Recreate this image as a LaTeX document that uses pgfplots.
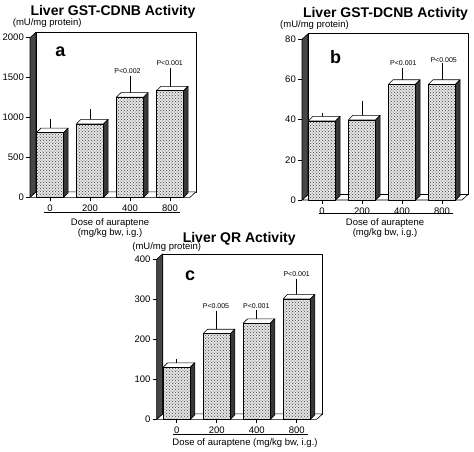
\documentclass[border=0pt]{standalone}
\usepackage{fontspec}
\setmainfont{Liberation Sans}
\usepackage{pgfplots}
\pgfplotsset{compat=1.18}
\usepackage{pgfplotstable}
\usetikzlibrary{patterns}

\definecolor{frontcol}{gray}{0.90}
\definecolor{sidecol}{gray}{0.22}
\definecolor{wallcol}{gray}{0.28}

% Panel a: Liver GST-CDNB (mU/mg protein)
\pgfplotstableread{
x y err
0 810 130
1 920 140
2 1255 220
3 1335 240
}\dataA
% Panel b: Liver GST-DCNB (mU/mg protein)
\pgfplotstableread{
x y err
0 39.4 2.1
1 39.9 7.8
2 57.6 6.6
3 57.6 8.7
}\dataB
% Panel c: Liver QR (mU/mg protein)
\pgfplotstableread{
x y err
0 130 13
1 214 49
2 240 25
3 301 40
}\dataC

\pgfplotsset{
  panel/.style={
    scale only axis, width=160pt, xmin=-0.5, xmax=3.5, ymin=0, clip=false,
    axis x line*=bottom, axis y line*=left, axis line style={draw=none},
    xtick={0,1,2,3}, xticklabels={0,200,400,800},
    tick align=outside, major tick length=4pt,
    tick style={black, line width=0.6pt},
    ticklabel style={font=\fontsize{9.5}{11}\selectfont},
    yticklabel style={inner sep=2pt},
  },
  topface/.style={fill=white, draw=black, line width=0.6pt, line join=round},
  sideface/.style={fill=sidecol, draw=black, line width=0.6pt, line join=round},
  wallface/.style={fill=white, draw=black, line width=0.6pt, line join=round},
  leftwall/.style={fill=wallcol, draw=black, line width=0.6pt, line join=round},
  errplot/.style={draw=none, no marks, forget plot,
    error bars/.cd, y dir=plus, y explicit,
    error bar style={draw=black, line width=0.6pt},
    error mark options={draw=black, line width=0.6pt, mark size=3.5pt}},
  frontbar/.style={ybar, bar width=0.68, bar shift=0pt, fill=frontcol, draw=black, line width=0.6pt,
    postaction={pattern=crosshatch dots, pattern color=black!75}},
}

% 3D faces of one bar: #1 position, #2 value, #3 depth in y units
\newcommand{\cubefaces}[3]{%
  \pgfmathsetmacro\xa{#1-0.34}%
  \pgfmathsetmacro\xb{#1+0.34}%
  \pgfmathsetmacro\xc{#1-0.34+0.1125}%
  \pgfmathsetmacro\xd{#1+0.34+0.1125}%
  \pgfmathsetmacro\ya{#2+#3}%
  \edef\tmp{%
    \noexpand\addplot[topface] coordinates {(\xa,#2) (\xc,\ya) (\xd,\ya) (\xb,#2) (\xa,#2)};
    \noexpand\addplot[sideface] coordinates {(\xb,0) (\xd,#3) (\xd,\ya) (\xb,#2) (\xb,0)};
  }\tmp}

% walls: #1 ymax, #2 wall depth in y units
\newcommand{\walls}[2]{%
  \pgfmathsetmacro\wt{#1+#2}%
  \edef\tmp{%
    \noexpand\addplot[wallface] coordinates {(-0.35,#2) (3.65,#2) (3.65,\wt) (-0.35,\wt) (-0.35,#2)};
    \noexpand\addplot[wallface] coordinates {(-0.5,0) (-0.35,#2) (3.65,#2) (3.5,0) (-0.5,0)};
    \noexpand\addplot[leftwall] coordinates {(-0.5,0) (-0.5,#1) (-0.35,\wt) (-0.35,#2) (-0.5,0)};
  }\tmp}

\begin{document}
\begin{tikzpicture}
\useasboundingbox (0,0) rectangle (474pt,451pt);

% ---------- panel a ----------
\begin{axis}[panel, at={(30pt,253.7pt)}, anchor=south west, height=159.6pt,
  ymax=2000, ytick={0,500,1000,1500,2000}, yticklabels={0,500,1000,1500,2000}]
  \walls{2000}{68.75}
  \addplot[errplot] table[x=x, y=y, y error=err]{\dataA};
  \cubefaces{0}{810}{56}
  \cubefaces{1}{920}{56}
  \cubefaces{2}{1255}{56}
  \cubefaces{3}{1335}{56}
  \addplot[frontbar] table[x=x, y=y]{\dataA};
\end{axis}

% ---------- panel b ----------
\begin{axis}[panel, at={(302pt,251pt)}, anchor=south west, height=160.7pt,
  ymax=80, ytick={0,20,40,60,80}, yticklabels={0,20,40,60,80}]
  \walls{80}{2.75}
  \addplot[errplot] table[x=x, y=y, y error=err]{\dataB};
  \cubefaces{0}{39.4}{2.25}
  \cubefaces{1}{39.9}{2.25}
  \cubefaces{2}{57.6}{2.25}
  \cubefaces{3}{57.6}{2.25}
  \addplot[frontbar] table[x=x, y=y]{\dataB};
\end{axis}

% ---------- panel c ----------
\begin{axis}[panel, at={(156.7pt,31.7pt)}, anchor=south west, height=160pt,
  ymax=400, ytick={0,100,200,300,400}, yticklabels={0,100,200,300,400}]
  \walls{400}{13.75}
  \addplot[errplot] table[x=x, y=y, y error=err]{\dataC};
  \cubefaces{0}{130}{11.25}
  \cubefaces{1}{214}{11.25}
  \cubefaces{2}{240}{11.25}
  \cubefaces{3}{301}{11.25}
  \addplot[frontbar] table[x=x, y=y]{\dataC};
\end{axis}

% ---------- titles and texts ----------
\tikzset{ttl/.style={font=\fontsize{14}{16}\selectfont\bfseries, anchor=base, inner sep=0pt},
  unit/.style={font=\fontsize{9.5}{11}\selectfont, inner sep=0pt},
  lett/.style={font=\fontsize{18}{20}\selectfont\bfseries, anchor=base, inner sep=0pt},
  pval/.style={font=\fontsize{7}{8}\selectfont, inner sep=0pt}}

\node[ttl] at (113pt,435.3pt) {Liver GST-CDNB Activity};
\node[ttl] at (385.5pt,433.7pt) {Liver GST-DCNB Activity};
\node[ttl] at (239.2pt,208.3pt) {Liver QR Activity};

\node[unit] at (47.2pt,427.7pt) {(mU/mg protein)};
\node[unit] at (314.5pt,426pt) {(mU/mg protein)};
\node[unit] at (166.7pt,203.7pt) {(mU/mg protein)};

\node[lett] at (60.3pt,394.3pt) {a};
\node[lett] at (335.5pt,387.7pt) {b};
\node[lett] at (190.2pt,171pt) {c};

\node[pval] at (127.5pt,380.3pt) {P<0.002};
\node[pval] at (169.7pt,388pt) {P<0.001};
\node[pval] at (403.3pt,387.7pt) {P<0.001};
\node[pval] at (443.7pt,391pt) {P<0.005};
\node[pval] at (216pt,145pt) {P<0.005};
\node[pval] at (256.3pt,145pt) {P<0.001};
\node[pval] at (296.7pt,177pt) {P<0.001};

\draw[line width=0.6pt] (44.3pt,238.3pt) -- (180pt,238.3pt);
\draw[line width=0.6pt] (319pt,237.7pt) -- (453pt,237.7pt);
\draw[line width=0.6pt] (173.3pt,16.7pt) -- (307.7pt,16.7pt);

\node[unit] at (110pt,228.3pt) {Dose of auraptene};
\node[unit] at (110pt,217.7pt) {(mg/kg bw, i.g.)};
\node[unit] at (385pt,227.7pt) {Dose of auraptene};
\node[unit] at (385pt,217.7pt) {(mg/kg bw, i.g.)};
\node[unit] at (245pt,7.7pt) {Dose of auraptene (mg/kg bw, i.g.)};
\end{tikzpicture}
\end{document}
